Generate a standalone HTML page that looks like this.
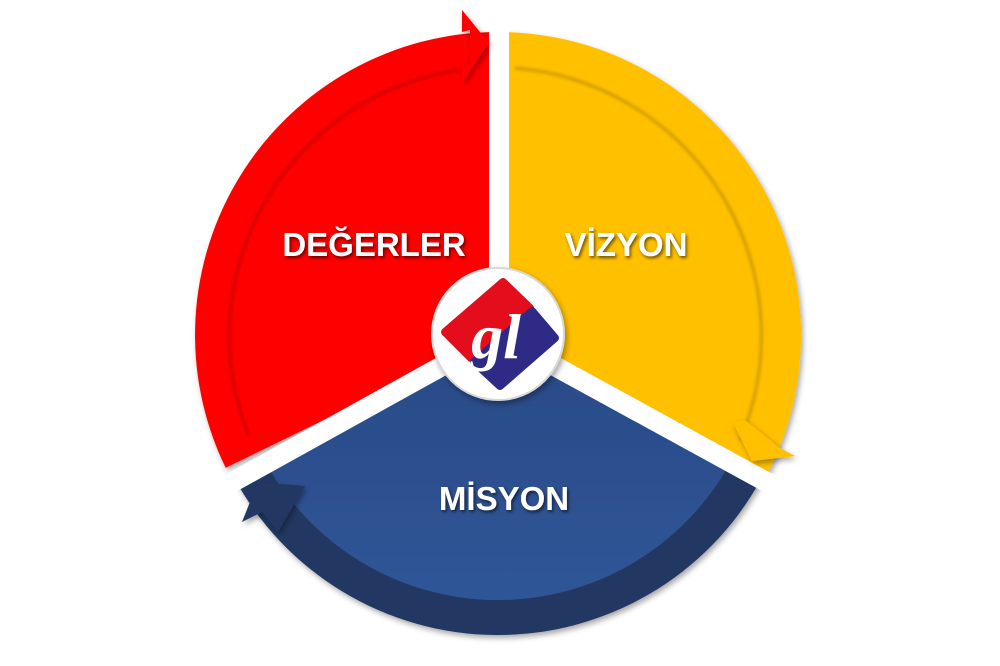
<!DOCTYPE html>
<html><head><meta charset="utf-8"><style>
html,body{margin:0;padding:0;background:#fff;}
svg{display:block;}
text{font-family:"Liberation Sans",sans-serif;font-weight:bold;fill:#fff;}
</style></head><body>
<svg width="1000" height="666" viewBox="0 0 1000 666" xmlns="http://www.w3.org/2000/svg">
<defs>
<filter id="sh" x="-20%" y="-20%" width="140%" height="140%"><feDropShadow dx="2" dy="3" stdDeviation="3" flood-color="#000" flood-opacity="0.35"/></filter>
<filter id="ts"><feDropShadow dx="1.5" dy="2" stdDeviation="1.5" flood-color="#000" flood-opacity="0.6"/></filter>
<filter id="bl"><feGaussianBlur stdDeviation="1.5"/></filter>
<linearGradient id="bg" x1="0" y1="0" x2="0" y2="1"><stop offset="0" stop-color="#2a4a86"/><stop offset="1" stop-color="#2f5597"/></linearGradient>
</defs>
<g filter="url(#sh)">
<path d="M498,335 L225.7,467.8 A303,303 0 0 1 498,32 Z" fill="#ff0000"/>
<path d="M498,335 L498,32 A303,303 0 0 1 768,472.6 Z" fill="#ffc000"/>
<path d="M498,335 L760.4,480.4 A300,300 0 0 1 233.1,475.9 Z" fill="#203864"/>
<path d="M498,335 L729.8,463.5 A265,265 0 0 1 264,459.4 Z" fill="url(#bg)"/>
</g>
<path d="M249,436 A268,268 0 0 1 460,70" fill="none" stroke="rgba(0,0,0,0.28)" stroke-width="2" filter="url(#bl)"/>
<path d="M515,68 A268,268 0 0 1 740,440" fill="none" stroke="rgba(0,0,0,0.28)" stroke-width="2" filter="url(#bl)"/>
<g stroke="#fff" stroke-width="20">
<line x1="499" y1="335" x2="499" y2="0"/>
<line x1="498" y1="335" x2="787.4" y2="493.5"/>
<line x1="498" y1="335" x2="209.4" y2="495"/>
</g>
<g filter="url(#sh)">
<polygon points="462,32 462,10 489,43 462,83 462,63 470,66 470,30" fill="#ff0000"/>
<polygon points="733,423 752,461 795,456 778,447 770,440 745,420" fill="#ffc000"/>
<polygon points="305,486 258,482 242,522 262,512 278,532 292,508" fill="#203864"/>
</g>
<g filter="url(#ts)">
<text x="374" y="256" font-size="33" text-anchor="middle">DEĞERLER</text>
<text x="626" y="256" font-size="33" text-anchor="middle">VİZYON</text>
<text x="504" y="510" font-size="33" text-anchor="middle">MİSYON</text>
</g>
<circle cx="498" cy="334" r="66" fill="#fff" stroke="#d8d8d8" stroke-width="2" filter="url(#sh)"/>
<g stroke-linejoin="round" stroke-width="8">
<polygon points="503,282 445,332 471,358 530,308" fill="#e30d1b" stroke="#e30d1b"/>
<polygon points="532,311 555,338 500,386 474,362" fill="#2e2a86" stroke="#2e2a86"/>
</g>
<text x="496" y="358" font-size="64" text-anchor="middle" font-style="italic" style="font-family:'Liberation Serif',serif">gl</text>
</svg>
</body></html>
